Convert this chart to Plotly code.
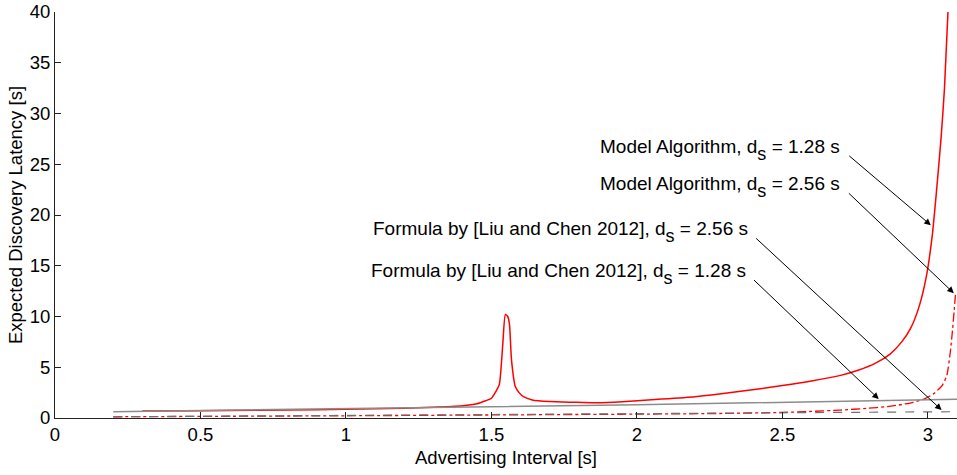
import plotly.graph_objects as go

# Model Algorithm, ds = 1.28 s (red solid)
model128_x = [0.3, 0.5, 0.7, 0.9, 1.1, 1.3, 1.4, 1.45, 1.48, 1.5, 1.515, 1.527, 1.539, 1.548,
              1.556, 1.562, 1.569, 1.582, 1.595, 1.61, 1.64, 1.7, 1.78, 1.86, 1.95, 2.05, 2.2,
              2.35, 2.5, 2.6, 2.7, 2.76, 2.82, 2.87, 2.91, 2.94, 2.97, 2.995, 3.015, 3.03, 3.045,
              3.057, 3.069]
model128_y = [0.7, 0.72, 0.76, 0.82, 0.9, 1.05, 1.2, 1.4, 1.7, 1.95, 2.6, 3.3, 7.3, 10.2,
              10.0, 9.2, 5.7, 3.1, 2.5, 2.1, 1.78, 1.62, 1.55, 1.5, 1.6, 1.8, 2.1,
              2.6, 3.2, 3.65, 4.2, 4.7, 5.4, 6.3, 7.5, 8.8, 11.0, 14.0, 18.0, 22.5, 27.5,
              32.5, 40.0]

# Model Algorithm, ds = 2.56 s (red dash-dot)
model256_x = [0.2, 0.5, 1.0, 1.5, 2.0, 2.3, 2.5, 2.6, 2.7, 2.79, 2.86, 2.9, 2.95, 2.99,
              3.02, 3.05, 3.065, 3.077, 3.085, 3.09, 3.095]
model256_y = [0.12, 0.16, 0.22, 0.3, 0.38, 0.45, 0.55, 0.65, 0.78, 0.95, 1.12, 1.28, 1.55,
              1.9, 2.4, 3.25, 4.2, 6.5, 8.8, 10.5, 12.3]

# Formula by [Liu and Chen 2012], ds = 1.28 s (gray solid)
liu128_x = [0.2, 1.0, 2.0, 3.1]
liu128_y = [0.62, 0.9, 1.3, 1.85]

# Formula by [Liu and Chen 2012], ds = 2.56 s (gray dashed)
liu256_x = [0.2, 1.0, 2.0, 3.1]
liu256_y = [0.12, 0.25, 0.42, 0.62]

x_ticks = [0, 0.5, 1, 1.5, 2, 2.5, 3]
x_tick_labels = ["0", "0.5", "1", "1.5", "2", "2.5", "3"]
y_ticks = [0, 5, 10, 15, 20, 25, 30, 35, 40]
y_tick_labels = ["0", "5", "10", "15", "20", "25", "30", "35", "40"]

SUB = '<sub><sub><span style="font-size:18px">s</span></sub></sub>'
labels = [
    "Model Algorithm, d" + SUB + " = 1.28 s",
    "Model Algorithm, d" + SUB + " = 2.56 s",
    "Formula by [Liu and Chen 2012], d" + SUB + " = 2.56 s",
    "Formula by [Liu and Chen 2012], d" + SUB + " = 1.28 s",
]
# label anchor (right end of text) and arrow head, in data units
label_pos = [(2.706, 26.4), (2.706, 22.75), (2.387, 18.3), (2.380, 14.2)]
arrow_head = [(3.010, 19.0), (3.089, 12.3), (3.047, 0.79), (2.831, 1.87)]

RED = "#ff0000"
GRAY = "#8c8c8c"
FONT = "Liberation Sans, Arial, Helvetica, sans-serif"

fig = go.Figure()
fig.add_trace(go.Scatter(x=model128_x, y=model128_y, mode="lines",
                         line=dict(color=RED, width=1.5, shape="spline", smoothing=0.6)))
fig.add_trace(go.Scatter(x=model256_x, y=model256_y, mode="lines",
                         line=dict(color=RED, width=1.3, dash="dashdot", shape="spline", smoothing=0.6)))
fig.add_trace(go.Scatter(x=liu128_x, y=liu128_y, mode="lines",
                         line=dict(color=GRAY, width=1.5)))
fig.add_trace(go.Scatter(x=liu256_x, y=liu256_y, mode="lines",
                         line=dict(color="#707070", width=1.2, dash="dash")))

annotations = []
for txt, (lx, ly), (hx, hy) in zip(labels, label_pos, arrow_head):
    annotations.append(dict(x=hx, y=hy, ax=lx, ay=ly, xref="x", yref="y", axref="x", ayref="y",
                            text=txt, showarrow=True, arrowhead=2, arrowsize=1.3, arrowwidth=1,
                            arrowcolor="black", standoff=0, startstandoff=9,
                            xanchor="right", yanchor="middle",
                            font=dict(family=FONT, size=19, color="black")))

fig.update_layout(
    width=957, height=475,
    margin=dict(l=55, r=0, t=12, b=57),
    plot_bgcolor="white", paper_bgcolor="white",
    showlegend=False,
    font=dict(family=FONT, size=18.5, color="black"),
    annotations=annotations,
    xaxis=dict(range=[0, 3.1], tickvals=x_ticks, ticktext=x_tick_labels,
               showgrid=False, zeroline=False, showline=True, linecolor="#222222", linewidth=1,
               ticks="inside", ticklen=6, tickcolor="#222222",
               tickfont=dict(family=FONT, size=18.5),
               title=dict(text="Advertising Interval [s]", standoff=6,
                          font=dict(family=FONT, size=18.5))),
    yaxis=dict(range=[0, 40], tickvals=y_ticks, ticktext=y_tick_labels,
               showgrid=False, zeroline=False, showline=True, linecolor="#222222", linewidth=1,
               ticks="inside", ticklen=6, tickcolor="#222222",
               tickfont=dict(family=FONT, size=18.5),
               title=dict(text="Expected Discovery Latency [s]", standoff=2,
                          font=dict(family=FONT, size=18.5))),
)

fig.write_html("out.html")
